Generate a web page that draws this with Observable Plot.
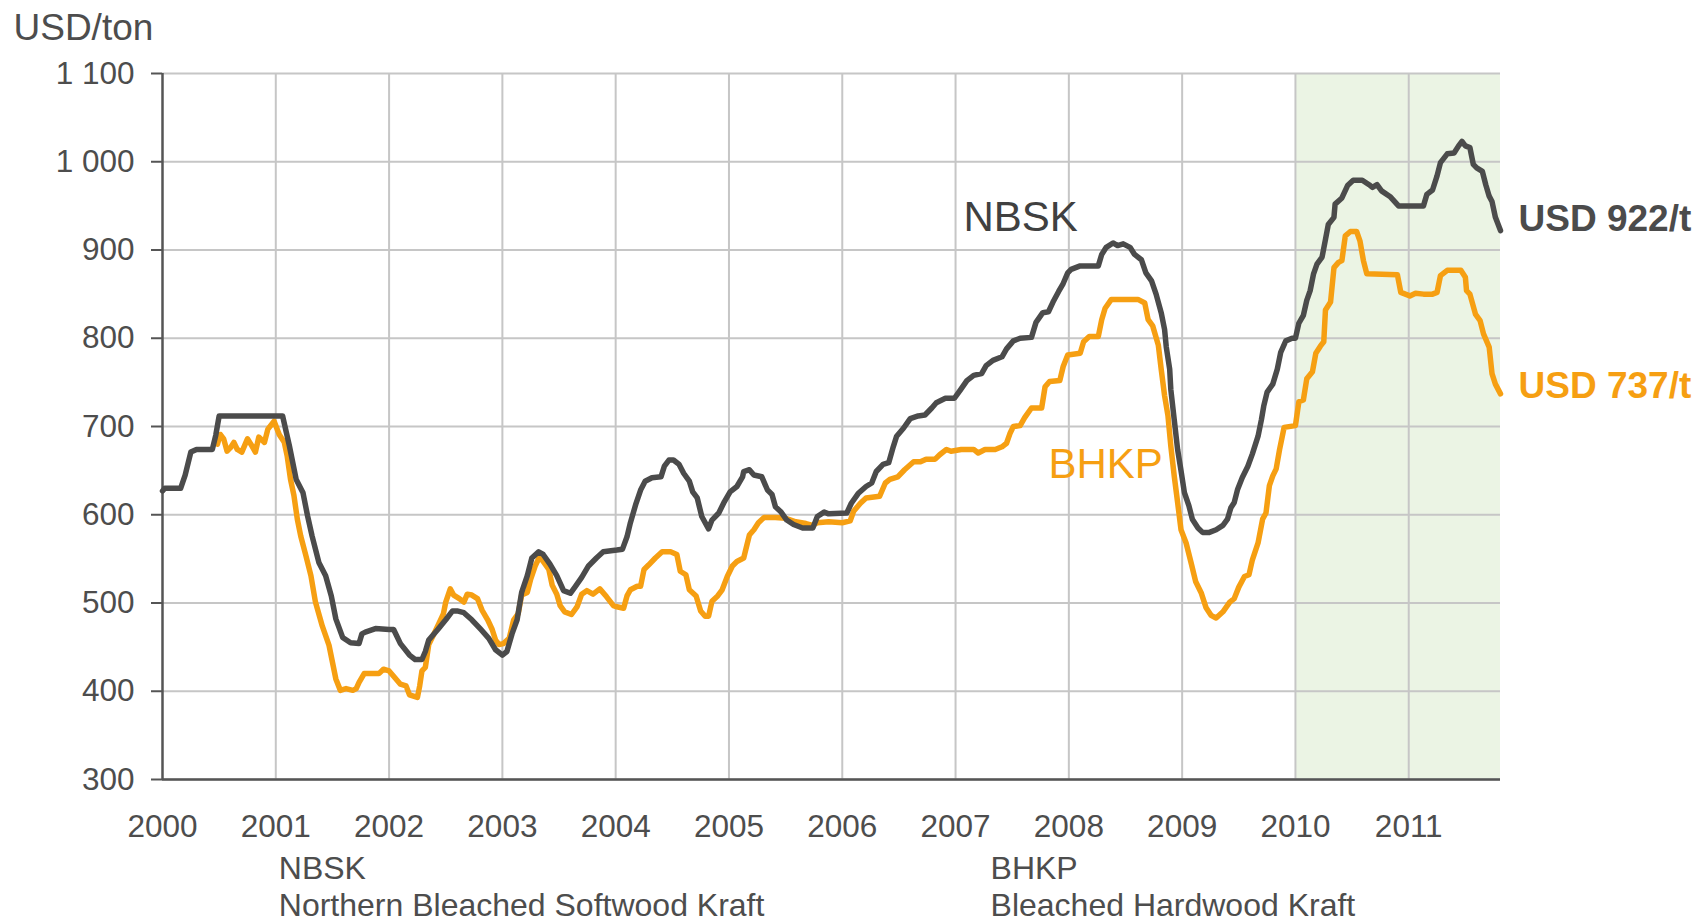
<!DOCTYPE html>
<html>
<head>
<meta charset="utf-8">
<script src="https://cdn.jsdelivr.net/npm/d3@7"></script>
<script src="https://cdn.jsdelivr.net/npm/@observablehq/plot@0.6"></script>
<style>
  html, body { margin: 0; padding: 0; background: #ffffff; }
  #chart { width: 1697px; height: 921px; overflow: hidden; }
</style>
</head>
<body>
<div id="chart"></div>
<script>
// ---- Data (decimal years, USD/ton) ----
const nbskYear = [
  2000.00,2000.02,2000.16,2000.20,2000.25,2000.30,2000.44,2000.47,2000.50,2000.53,
  2001.06,2001.12,2001.18,2001.24,2001.28,2001.32,2001.38,2001.44,2001.49,2001.53,
  2001.59,2001.66,2001.735,2001.76,2001.79,2001.88,2002.00,2002.04,2002.10,2002.18,
  2002.23,2002.29,2002.32,2002.35,2002.43,2002.50,2002.56,2002.60,2002.66,2002.73,
  2002.81,2002.88,2002.94,2003.00,2003.04,2003.085,2003.13,2003.17,2003.22,2003.26,
  2003.32,2003.36,2003.42,2003.48,2003.54,2003.60,2003.64,2003.70,2003.76,2003.83,
  2003.89,2004.01,2004.06,2004.10,2004.13,2004.18,2004.22,2004.26,2004.32,2004.40,
  2004.43,2004.47,2004.51,2004.56,2004.60,2004.65,2004.68,2004.72,2004.76,2004.82,
  2004.85,2004.91,2004.96,2005.01,2005.07,2005.12,2005.13,2005.18,2005.22,2005.29,
  2005.34,2005.38,2005.41,2005.46,2005.51,2005.57,2005.65,2005.74,2005.78,2005.84,
  2005.88,2006.04,2006.08,2006.14,2006.21,2006.26,2006.30,2006.36,2006.41,2006.45,
  2006.48,2006.54,2006.60,2006.67,2006.73,2006.79,2006.83,2006.91,2006.99,2007.04,
  2007.10,2007.16,2007.23,2007.27,2007.33,2007.41,2007.45,2007.51,2007.57,2007.67,
  2007.71,2007.77,2007.82,2007.86,2007.91,2007.95,2007.99,2008.02,2008.10,2008.26,
  2008.29,2008.33,2008.39,2008.43,2008.48,2008.54,2008.58,2008.64,2008.68,2008.73,
  2008.77,2008.815,2008.845,2008.86,2008.89,2008.90,2008.93,2008.96,2008.99,2009.02,
  2009.06,2009.09,2009.14,2009.18,2009.24,2009.30,2009.36,2009.40,2009.43,2009.46,
  2009.49,2009.53,2009.58,2009.62,2009.67,2009.70,2009.72,2009.75,2009.80,2009.84,
  2009.87,2009.915,2009.97,2010.00,2010.03,2010.07,2010.10,2010.13,2010.16,2010.19,
  2010.235,2010.265,2010.29,2010.34,2010.35,2010.41,2010.46,2010.51,2010.59,2010.65,
  2010.68,2010.72,2010.76,2010.84,2010.91,2011.13,2011.16,2011.21,2011.25,2011.28,
  2011.34,2011.40,2011.44,2011.47,2011.50,2011.54,2011.57,2011.60,2011.65,2011.68,
  2011.71,2011.735,2011.765,2011.81
];
const nbskPrice = [
  627,630,630,645,671,674,674,690,712,712,
  712,678,640,625,599,576,546,531,508,482,
  461,455,454,465,467,471,470,470,454,441,
  436,436,445,458,470,481,491,491,489,481,
  470,460,447,441,445,465,481,512,531,551,
  558,555,544,531,514,511,518,529,542,551,
  558,560,561,575,591,613,628,638,642,643,
  655,662,662,657,647,638,626,619,598,584,
  594,602,615,626,632,643,649,651,645,643,
  628,623,609,603,594,589,585,585,598,603,
  601,602,613,624,632,636,649,657,659,677,
  689,698,709,712,713,721,727,732,732,741,
  752,758,760,769,775,779,788,797,800,801,
  818,829,830,841,853,862,874,878,882,882,
  895,903,908,905,907,903,895,889,874,865,
  850,829,810,790,765,742,708,674,650,625,
  610,595,585,580,580,583,588,595,608,614,
  629,642,655,669,689,708,723,739,748,765,
  784,797,800,800,817,826,843,854,873,884,
  892,912,929,937,952,959,973,979,979,974,
  971,974,967,960,950,950,963,968,984,999,
  1009,1010,1018,1023,1018,1016,997,993,989,974,
  961,955,937,922
];
const bhkpYear = [
  2000.485,2000.51,2000.54,2000.57,2000.60,2000.63,2000.66,2000.70,2000.75,2000.78,
  2000.82,2000.85,2000.90,2000.93,2000.985,2001.03,2001.075,2001.10,2001.13,2001.16,
  2001.19,2001.22,2001.265,2001.31,2001.35,2001.41,2001.47,2001.50,2001.53,2001.57,
  2001.62,2001.68,2001.71,2001.735,2001.78,2001.85,2001.91,2001.95,2002.00,2002.04,
  2002.10,2002.15,2002.18,2002.25,2002.27,2002.29,2002.32,2002.35,2002.40,2002.44,
  2002.48,2002.50,2002.54,2002.57,2002.62,2002.66,2002.69,2002.73,2002.78,2002.82,
  2002.87,2002.91,2002.94,2002.97,2003.01,2003.06,2003.10,2003.14,2003.17,2003.22,
  2003.25,2003.29,2003.33,2003.36,2003.41,2003.44,2003.48,2003.51,2003.55,2003.61,
  2003.66,2003.70,2003.745,2003.80,2003.86,2003.92,2003.98,2004.00,2004.07,2004.10,
  2004.13,2004.19,2004.22,2004.25,2004.29,2004.35,2004.41,2004.485,2004.54,2004.57,
  2004.62,2004.65,2004.71,2004.75,2004.79,2004.82,2004.85,2004.90,2004.94,2004.985,
  2005.03,2005.07,2005.13,2005.18,2005.22,2005.26,2005.31,2005.41,2005.50,2005.59,
  2005.68,2005.74,2005.78,2005.88,2006.00,2006.07,2006.10,2006.16,2006.21,2006.33,
  2006.38,2006.42,2006.49,2006.55,2006.63,2006.69,2006.74,2006.82,2006.86,2006.92,
  2006.96,2007.05,2007.16,2007.20,2007.26,2007.35,2007.41,2007.45,2007.48,2007.51,
  2007.57,2007.61,2007.67,2007.76,2007.79,2007.83,2007.92,2007.95,2007.99,2008.10,
  2008.13,2008.18,2008.26,2008.29,2008.32,2008.375,2008.61,2008.67,2008.70,2008.74,
  2008.79,2008.815,2008.845,2008.875,2008.90,2008.93,2008.96,2008.99,2009.035,2009.08,
  2009.12,2009.17,2009.21,2009.255,2009.30,2009.36,2009.42,2009.46,2009.50,2009.55,
  2009.59,2009.62,2009.67,2009.71,2009.74,2009.77,2009.80,2009.83,2009.86,2009.90,
  2010.00,2010.03,2010.07,2010.10,2010.15,2010.18,2010.22,2010.25,2010.265,2010.31,
  2010.34,2010.38,2010.41,2010.44,2010.485,2010.54,2010.57,2010.60,2010.63,2010.90,
  2010.93,2010.97,2011.01,2011.06,2011.13,2011.21,2011.25,2011.28,2011.34,2011.46,
  2011.50,2011.51,2011.54,2011.59,2011.63,2011.66,2011.71,2011.735,2011.765,2011.81
];
const bhkpPrice = [
  680,691,686,672,676,682,674,671,686,680,
  671,688,682,697,706,691,682,667,640,622,
  595,576,554,531,501,474,452,433,414,401,
  403,401,403,410,420,420,420,425,423,417,
  408,406,396,393,406,423,427,453,466,477,
  488,501,516,509,505,501,510,509,505,492,
  481,470,458,453,454,460,481,488,509,512,
  527,542,553,547,538,520,510,497,490,487,
  496,510,514,510,516,507,497,496,494,508,
  515,519,519,538,543,551,558,558,555,536,
  532,515,508,491,485,485,502,508,515,530,
  542,547,551,577,583,591,597,597,596,592,
  590,588,591,592,591,593,604,613,619,621,
  636,640,643,651,660,660,663,663,668,674,
  672,674,674,670,674,674,677,681,692,700,
  701,710,721,721,745,751,752,768,781,783,
  796,802,802,821,834,844,844,840,821,814,
  792,765,735,712,678,644,614,583,568,545,
  524,511,495,486,483,490,501,505,518,530,
  532,549,568,595,602,633,644,652,674,699,
  701,728,730,754,762,783,791,796,832,841,
  880,886,888,916,921,921,910,888,873,872,
  852,850,848,851,850,850,852,871,877,877,
  869,854,850,827,820,805,790,760,748,737
];

const yearTicks = [2000, 2001, 2002, 2003, 2004, 2005, 2006, 2007, 2008, 2009, 2010, 2011];
const gridYears = [2001, 2002, 2003, 2004, 2005, 2006, 2007, 2008, 2009, 2010, 2011];
const priceTicks = [300, 400, 500, 600, 700, 800, 900, 1000, 1100];
const shadeStart = 2010;
const seriesNames = ["NBSK", "BHKP"];
const endLabels = ["USD 922/t", "USD 737/t"];
const footnotes = [
  {year: 2001, code: "NBSK", name: "Northern Bleached Softwood Kraft", shift: 3},
  {year: 2007, code: "BHKP", name: "Bleached Hardwood Kraft", shift: 35}
];

// ---- Build tables ----
const nbsk = nbskYear.map((t, i) => ({t, v: nbskPrice[i]}));
const bhkp = bhkpYear.map((t, i) => ({t, v: bhkpPrice[i]}));
const xEnd = nbskYear[nbskYear.length - 1];
const nbskLast = nbsk[nbsk.length - 1];
const bhkpLast = bhkp[bhkp.length - 1];

const GRAY = "#4b4b4b";
const ORANGE = "#f69f12";
const TEXT = "#4d4d4d";
const GRID = "#c6c6c6";
const FONT = "'Liberation Sans', Arial, Helvetica, sans-serif";

const fmt = d => d3.format(",")(d).replace(",", "\u00a0");

const chart = Plot.plot({
  width: 1697,
  height: 921,
  marginLeft: 162,
  marginRight: 197,
  marginTop: 73,
  marginBottom: 142,
  style: {background: "#ffffff", fontFamily: FONT, overflow: "visible"},
  x: {domain: [2000, xEnd], axis: null},
  y: {domain: [300, 1100], axis: null},
  marks: [
    Plot.rect([{x1: shadeStart, x2: xEnd}], {x1: "x1", x2: "x2", y1: 300, y2: 1100, fill: "#ebf4e4"}),
    Plot.gridY(priceTicks, {stroke: GRID, strokeOpacity: 1, strokeWidth: 2}),
    Plot.gridX(gridYears, {stroke: GRID, strokeOpacity: 1, strokeWidth: 2}),
    Plot.axisY(priceTicks, {anchor: "left", tickSize: 11, tickPadding: 17, tickFormat: fmt,
      fontSize: 31.5, stroke: "#555555", strokeWidth: 2, fill: TEXT, label: null}),
    Plot.axisX(yearTicks, {anchor: "bottom", tickSize: 0, tickPadding: 35, tickFormat: d => String(d),
      fontSize: 31.5, fill: TEXT, label: null}),
    Plot.ruleX([2000], {stroke: "#555555", strokeWidth: 2.5}),
    Plot.ruleY([300], {stroke: "#555555", strokeWidth: 2.5}),
    Plot.line(bhkp, {x: "t", y: "v", stroke: ORANGE, strokeWidth: 5.5, strokeLinejoin: "round", strokeLinecap: "round"}),
    Plot.line(nbsk, {x: "t", y: "v", stroke: GRAY, strokeWidth: 5.5, strokeLinejoin: "round", strokeLinecap: "round"}),
    Plot.text([seriesNames[0]], {x: 2007.07, y: 922, text: d => d, textAnchor: "start", lineAnchor: "bottom",
      fontSize: 42, fill: "#404040"}),
    Plot.text([seriesNames[1]], {x: 2007.82, y: 642, text: d => d, textAnchor: "start", lineAnchor: "bottom",
      fontSize: 42, fill: ORANGE}),
    Plot.text([nbskLast], {x: "t", y: "v", text: () => endLabels[0], textAnchor: "start", lineAnchor: "bottom",
      dx: 18, dy: 0, fontSize: 37, fontWeight: "bold", fill: GRAY}),
    Plot.text([bhkpLast], {x: "t", y: "v", text: () => endLabels[1], textAnchor: "start", lineAnchor: "bottom",
      dx: 18, dy: 4, fontSize: 37, fontWeight: "bold", fill: ORANGE}),
    Plot.text(["USD/ton"], {frameAnchor: "top-left", text: d => d, textAnchor: "start", lineAnchor: "bottom",
      dx: -149, dy: -34, fontSize: 37, fill: TEXT}),
    Plot.text([footnotes[0]], {x: "year", frameAnchor: "bottom", text: "code", textAnchor: "start", lineAnchor: "bottom",
      dx: footnotes[0].shift, dy: 99, fontSize: 32, fill: TEXT}),
    Plot.text([footnotes[0]], {x: "year", frameAnchor: "bottom", text: "name", textAnchor: "start", lineAnchor: "bottom",
      dx: footnotes[0].shift, dy: 136, fontSize: 32, fill: TEXT}),
    Plot.text([footnotes[1]], {x: "year", frameAnchor: "bottom", text: "code", textAnchor: "start", lineAnchor: "bottom",
      dx: footnotes[1].shift, dy: 99, fontSize: 32, fill: TEXT}),
    Plot.text([footnotes[1]], {x: "year", frameAnchor: "bottom", text: "name", textAnchor: "start", lineAnchor: "bottom",
      dx: footnotes[1].shift, dy: 136, fontSize: 32, fill: TEXT})
  ]
});
document.getElementById("chart").appendChild(chart);
</script>
</body>
</html>
